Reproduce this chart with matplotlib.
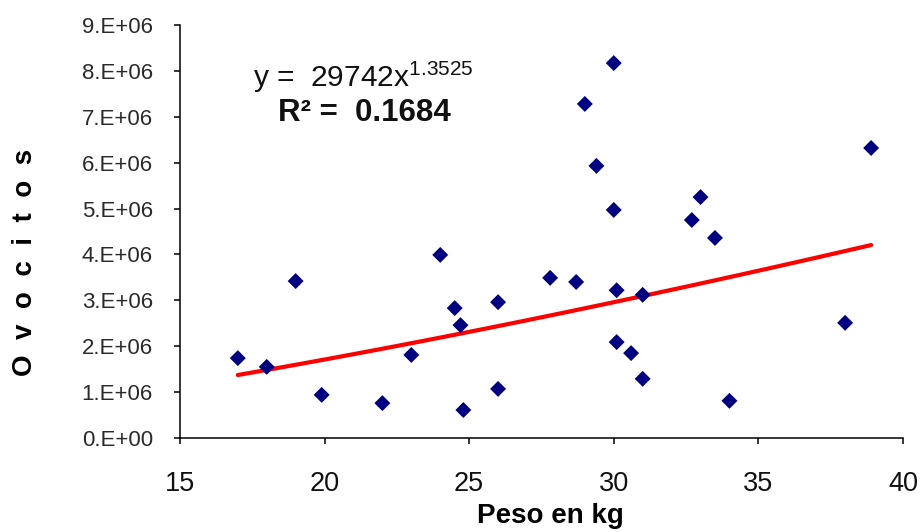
import numpy as np
import matplotlib.pyplot as plt

plt.rcParams['font.family'] = ['Liberation Sans', 'DejaVu Sans']
plt.rcParams['mathtext.fontset'] = 'custom'
plt.rcParams['mathtext.rm'] = 'Liberation Sans'

# weight (kg) and oocyte counts
peso = [17.0, 18.0, 19.0, 19.9, 22.0, 23.0, 24.0, 24.5, 24.7, 24.8,
        26.0, 26.0, 27.8, 28.7, 29.0, 29.4, 30.0, 30.0, 30.1, 30.1,
        30.6, 31.0, 31.0, 32.7, 33.0, 33.5, 34.0, 38.0, 38.9]
ovocitos = [1.74e6, 1.55e6, 3.42e6, 0.94e6, 0.76e6, 1.81e6, 3.99e6, 2.83e6, 2.46e6, 0.61e6,
            2.96e6, 1.07e6, 3.49e6, 3.40e6, 7.28e6, 5.93e6, 8.17e6, 4.97e6, 3.22e6, 2.09e6,
            1.85e6, 1.29e6, 3.12e6, 4.75e6, 5.25e6, 4.36e6, 0.81e6, 2.51e6, 6.32e6]

# power trendline as printed on the chart
fit_a = 29742
fit_b = 1.3525

y_ticks = np.arange(0, 10e6, 1e6)
y_tick_labels = ["0.E+00", "1.E+06", "2.E+06", "3.E+06", "4.E+06",
                 "5.E+06", "6.E+06", "7.E+06", "8.E+06", "9.E+06"]
x_ticks = [15, 20, 25, 30, 35, 40]

fig = plt.figure(figsize=(9.21, 5.32), dpi=100)
ax = fig.add_axes([0.1954, 0.1767, 0.785, 0.7763])

x = np.array(peso)
fit_x = np.linspace(x.min(), x.max(), 100)
fit_y = fit_a * fit_x ** fit_b
ax.plot(fit_x, fit_y, color='#ff0000', lw=3, solid_capstyle='round', zorder=2)
ax.scatter(peso, ovocitos, marker='D', s=66, color='#000080', edgecolors='none', zorder=3)

ax.set_xlim(15, 40)
ax.set_ylim(0, 9e6)
ax.set_xticks(x_ticks)
ax.set_xticklabels([str(t) for t in x_ticks], fontsize=19.5, color='#111111')
ax.set_yticks(y_ticks)
ax.set_yticklabels(y_tick_labels, fontsize=16, color='#2a2a2a')

for side in ['top', 'right']:
    ax.spines[side].set_visible(False)
for side in ['left', 'bottom']:
    ax.spines[side].set_linewidth(1.1)
ax.tick_params(axis='both', direction='out', length=4.5, width=1.1)
ax.tick_params(axis='x', pad=19)
ax.tick_params(axis='y', pad=15)

fig.text(0.598, 0.017, "Peso en kg", fontsize=20, fontweight='bold',
         ha='center', va='baseline')
fig.text(0.027, 0.507, "O  v  o  c  i  t  o  s", rotation=90, fontsize=20, fontweight='bold',
         ha='center', va='center')

ax.text(0.101, 0.850, r"y =  29742x$^{\mathrm{1.3525}}$", transform=ax.transAxes,
        fontsize=21.5, ha='left', va='baseline', color='#111111')
ax.text(0.1355, 0.768, "R² =  0.1684", transform=ax.transAxes, fontsize=22.5,
        fontweight='bold', ha='left', va='baseline', color='#111111')

plt.savefig("out.png", dpi=100)
